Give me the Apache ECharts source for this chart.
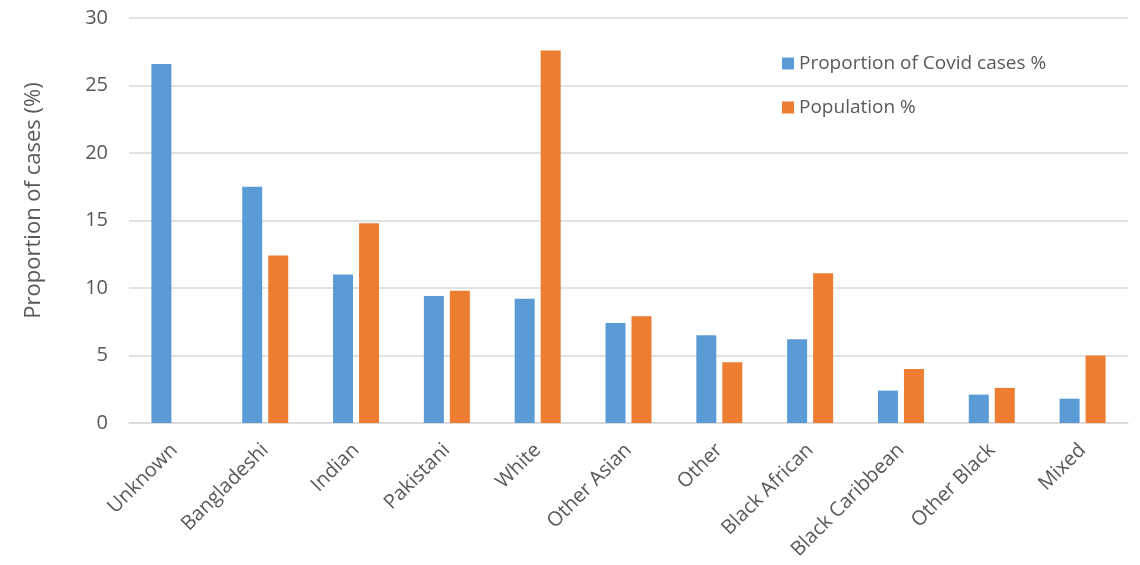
<!DOCTYPE html>
<html><head><meta charset="utf-8">
<script src="https://cdn.jsdelivr.net/npm/echarts@6/dist/echarts.min.js"></script>
<style>html,body{margin:0;padding:0;background:#fff}#c{width:1140px;height:565px}</style>
</head><body><div id="c"></div>
<script>
const categories = ["Unknown","Bangladeshi","Indian","Pakistani","White","Other Asian","Other","Black African","Black Caribbean","Other Black","Mixed"];
const covidCases = [26.6,17.5,11.0,9.4,9.2,7.4,6.5,6.2,2.4,2.1,1.8];
const population = [null,12.4,14.8,9.8,27.6,7.9,4.5,11.1,4.0,2.6,5.0];
const seriesNames = ["Proportion of Covid cases %","Population %"];
const yTicks = {min:0,max:30,interval:5};

const font = "Open Sans";
const chart = echarts.init(document.getElementById('c'));
chart.setOption({
  animation:false,
  textStyle:{fontFamily:font},
  grid:{left:129,right:12,top:18,bottom:142,containLabel:false},
  legend:{
    orient:'vertical', left:777, top:49, itemWidth:12, itemHeight:12, itemGap:25,
    icon:'rect',
    textStyle:{fontFamily:font,fontSize:19,color:'#595959'},
    data:seriesNames
  },
  xAxis:{
    type:'category', data:categories,
    axisLine:{lineStyle:{color:'#d9d9d9',width:1.5}},
    axisTick:{show:false},
    axisLabel:{rotate:45,fontSize:20,color:'#595959',fontFamily:font,margin:24,interval:0}
  },
  yAxis:{
    type:'value', min:yTicks.min, max:yTicks.max, interval:yTicks.interval,
    name:'Proportion of cases (%)', nameLocation:'middle', nameGap:84, nameRotate:90,
    nameTextStyle:{fontSize:22,color:'#595959',fontFamily:font,padding:[0,0,0,40]},
    axisLine:{show:false}, axisTick:{show:false},
    axisLabel:{fontSize:20,color:'#595959',fontFamily:font,margin:21},
    splitLine:{lineStyle:{color:'#d9d9d9',width:1.5}}
  },
  series:[
    {name:seriesNames[0],type:'bar',data:covidCases,barWidth:20,barGap:'30%',itemStyle:{color:'#5B9BD5'}},
    {name:seriesNames[1],type:'bar',data:population,barWidth:20,barGap:'30%',itemStyle:{color:'#ED7D31'}}
  ]
});
</script></body></html>
